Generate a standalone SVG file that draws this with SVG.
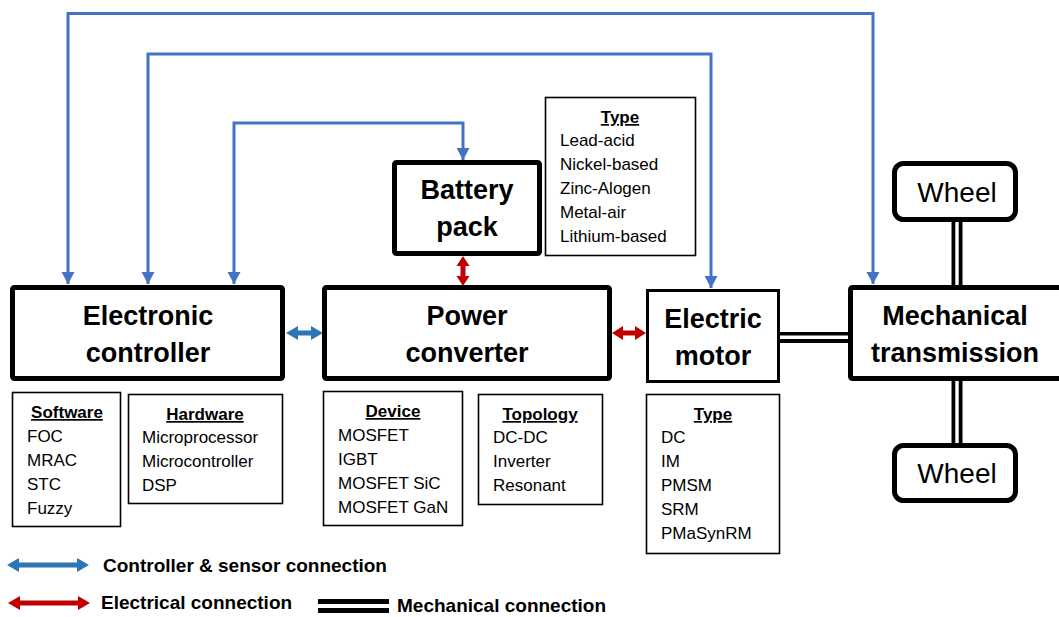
<svg xmlns="http://www.w3.org/2000/svg" width="1059" height="617" viewBox="0 0 1059 617">
<style>
.big{font-family:"Liberation Sans",Arial,sans-serif;font-weight:bold;font-size:27px;text-anchor:middle;fill:#000}
.wheel{font-family:"Liberation Sans",Arial,sans-serif;font-size:28px;text-anchor:middle;fill:#000}
.hd{font-family:"Liberation Sans",Arial,sans-serif;font-weight:bold;font-size:17px;text-anchor:middle;text-decoration:underline;fill:#000}
.it{font-family:"Liberation Sans",Arial,sans-serif;font-size:17px;fill:#000}
.lg{font-family:"Liberation Sans",Arial,sans-serif;font-weight:bold;font-size:19px;fill:#000}
.thick{fill:#fff;stroke:#000;stroke-width:5}
.mid{fill:#fff;stroke:#000;stroke-width:3}
.thin{fill:#fff;stroke:#000;stroke-width:1.6}
.ctl{fill:none;stroke:#4472C4;stroke-width:3}
</style>
<defs>
<marker id="ah" markerUnits="userSpaceOnUse" markerWidth="13" markerHeight="14" refX="12" refY="6.5" orient="auto-start-reverse">
<path d="M0,0 L12,6.5 L0,13 z" fill="#4472C4"/>
</marker>
</defs>
<rect width="1059" height="617" fill="#fff"/>

<g id="connectors">
<path class="ctl" d="M68,284 V13.5 H873 V284" marker-start="url(#ah)" marker-end="url(#ah)"/>
<path class="ctl" d="M148,284 V54 H711 V288" marker-start="url(#ah)" marker-end="url(#ah)"/>
<path class="ctl" d="M234,284 V123 H463 V160" marker-start="url(#ah)" marker-end="url(#ah)"/>
<polygon fill="#2E75B6" points="286,333 298,326 298,330.5 311,330.5 311,326 323,333 311,340 311,335.5 298,335.5 298,340"/>
<polygon fill="#C00000" points="612,333 623,326 623,330.5 635,330.5 635,326 646,333 635,340 635,335.5 623,335.5 623,340"/>
<polygon fill="#C00000" points="463,256 469.5,266 465.5,266 465.5,276 469.5,276 463,286 456.5,276 460.5,276 460.5,266 456.5,266"/>
<rect x="780" y="332" width="70" height="11" fill="#000"/>
<rect x="780" y="335.5" width="70" height="3.5" fill="#fff"/>
<rect x="951.5" y="220" width="11" height="68" fill="#000"/>
<rect x="955.3" y="220" width="3.4" height="68" fill="#fff"/>
<rect x="951.5" y="379" width="11" height="68" fill="#000"/>
<rect x="955.3" y="379" width="3.4" height="68" fill="#fff"/>
</g>

<g id="electronic-controller">
<rect class="thick" x="12.5" y="287.5" width="270" height="91" rx="2"/>
<text class="big" x="148" y="325">Electronic</text>
<text class="big" x="148" y="362">controller</text>
</g>
<g id="power-converter">
<rect class="thick" x="324.5" y="287.5" width="285" height="91" rx="2"/>
<text class="big" x="467" y="325">Power</text>
<text class="big" x="467" y="362">converter</text>
</g>
<g id="battery-pack">
<rect class="thick" x="394.5" y="162.5" width="145" height="91" rx="2"/>
<text class="big" x="467" y="199">Battery</text>
<text class="big" x="467" y="236">pack</text>
</g>
<g id="electric-motor">
<rect class="mid" x="647.5" y="290.5" width="131" height="91"/>
<text class="big" x="713" y="328">Electric</text>
<text class="big" x="713" y="365">motor</text>
</g>
<g id="mechanical-transmission">
<rect class="thick" x="850.5" y="287.5" width="220" height="91" rx="2"/>
<text class="big" x="955" y="325">Mechanical</text>
<text class="big" x="955" y="362">transmission</text>
</g>
<g id="wheel-top">
<rect class="thick" x="894.5" y="163.5" width="121" height="56" rx="9"/>
<text class="wheel" x="957" y="202">Wheel</text>
</g>
<g id="wheel-bottom">
<rect class="thick" x="894.5" y="445.5" width="121" height="55" rx="9"/>
<text class="wheel" x="957" y="483">Wheel</text>
</g>

<g id="battery-type">
<rect class="thin" x="545.5" y="97.5" width="150" height="158"/>
<text class="hd" x="620" y="123">Type</text>
<text class="it" x="560" y="146">Lead-acid</text>
<text class="it" x="560" y="170">Nickel-based</text>
<text class="it" x="560" y="194">Zinc-Alogen</text>
<text class="it" x="560" y="218">Metal-air</text>
<text class="it" x="560" y="242">Lithium-based</text>
</g>
<g id="software">
<rect class="thin" x="12.5" y="392.5" width="108" height="134"/>
<text class="hd" x="67" y="418">Software</text>
<text class="it" x="27" y="442">FOC</text>
<text class="it" x="27" y="466">MRAC</text>
<text class="it" x="27" y="490">STC</text>
<text class="it" x="27" y="514">Fuzzy</text>
</g>
<g id="hardware">
<rect class="thin" x="128.5" y="394.5" width="154" height="109"/>
<text class="hd" x="205" y="420">Hardware</text>
<text class="it" x="142" y="443">Microprocessor</text>
<text class="it" x="142" y="467">Microcontroller</text>
<text class="it" x="142" y="491">DSP</text>
</g>
<g id="device">
<rect class="thin" x="323.5" y="391.5" width="139" height="134"/>
<text class="hd" x="393" y="417">Device</text>
<text class="it" x="338" y="441">MOSFET</text>
<text class="it" x="338" y="465">IGBT</text>
<text class="it" x="338" y="489">MOSFET SiC</text>
<text class="it" x="338" y="513">MOSFET GaN</text>
</g>
<g id="topology">
<rect class="thin" x="478.5" y="394.5" width="124" height="110"/>
<text class="hd" x="540" y="420">Topology</text>
<text class="it" x="493" y="443">DC-DC</text>
<text class="it" x="493" y="467">Inverter</text>
<text class="it" x="493" y="491">Resonant</text>
</g>
<g id="motor-type">
<rect class="thin" x="646.5" y="394.5" width="133" height="159"/>
<text class="hd" x="713" y="420">Type</text>
<text class="it" x="661" y="443">DC</text>
<text class="it" x="661" y="467">IM</text>
<text class="it" x="661" y="491">PMSM</text>
<text class="it" x="661" y="515">SRM</text>
<text class="it" x="661" y="539">PMaSynRM</text>
</g>

<g id="legend">
<polygon fill="#2E75B6" points="7,565 19,558 19,562.5 77,562.5 77,558 89,565 77,572 77,567.5 19,567.5 19,572"/>
<text class="lg" x="103" y="572">Controller &amp; sensor connection</text>
<polygon fill="#C00000" points="8,603 20,596 20,600.5 78,600.5 78,596 90,603 78,610 78,605.5 20,605.5 20,610"/>
<text class="lg" x="101" y="609">Electrical connection</text>
<rect x="318" y="599" width="71" height="14" fill="#000"/>
<rect x="318" y="604" width="71" height="4" fill="#fff"/>
<text class="lg" x="397" y="612">Mechanical connection</text>
</g>
</svg>
